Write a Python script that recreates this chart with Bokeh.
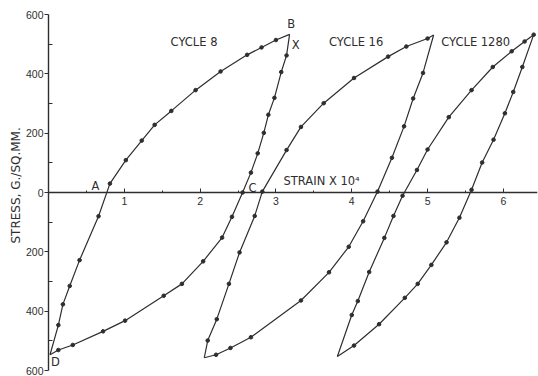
from bokeh.plotting import figure
from bokeh.models import FixedTicker, Range1d, Label, Title
from bokeh.embed import file_html
from bokeh.resources import INLINE

# ---- data (strain x 10^4, stress g/sq.mm; compression negative) ----
# Cycle 8
c8_load_x = [0.02, 0.13, 0.19, 0.28, 0.41, 0.66, 0.81, 1.02, 1.23, 1.40, 1.62, 1.94, 2.27, 2.62, 2.81, 3.00, 3.18]
c8_load_y = [-547, -447, -377, -315, -228, -80, 30, 109, 175, 228, 275, 345, 408, 464, 489, 514, 533]
c8_unload_x = [3.18, 3.14, 3.07, 2.98, 2.90, 2.84, 2.76, 2.67, 2.56, 2.42, 2.29, 2.04, 1.76, 1.52, 1.01, 0.72, 0.32, 0.13, 0.02]
c8_unload_y = [533, 462, 406, 319, 262, 201, 132, 67, 0, -82, -152, -232, -308, -348, -432, -468, -514, -531, -547]

# Cycle 16
c16_load_x = [2.055, 2.10, 2.22, 2.38, 2.52, 2.72, 2.82, 3.14, 3.33, 3.63, 4.03, 4.48, 4.72, 5.00, 5.08]
c16_load_y = [-557, -499, -427, -308, -202, -79, 3, 143, 221, 301, 386, 458, 492, 519, 531]
c16_unload_x = [5.08, 4.94, 4.81, 4.69, 4.53, 4.34, 4.15, 3.96, 3.70, 3.33, 2.67, 2.40, 2.21, 2.055]
c16_unload_y = [531, 403, 317, 223, 117, 3, -97, -183, -269, -364, -488, -524, -547, -557]

# Cycle 1280
c1280_load_x = [3.81, 4.00, 4.08, 4.23, 4.43, 4.55, 4.67, 4.86, 5.00, 5.28, 5.58, 5.86, 6.11, 6.28, 6.40]
c1280_load_y = [-553, -413, -366, -268, -153, -79, -11, 76, 145, 254, 345, 423, 476, 509, 532]
c1280_unload_x = [6.40, 6.25, 6.13, 6.02, 5.87, 5.72, 5.58, 5.42, 5.25, 5.05, 4.87, 4.70, 4.36, 4.03, 3.81]
c1280_unload_y = [532, 423, 339, 267, 178, 101, 9, -85, -168, -244, -308, -355, -444, -516, -553]

x_ticks = [1, 2, 3, 4, 5, 6]
x_minor = [0.5, 1.5, 2.5, 3.5, 4.5, 5.5]
y_ticks = [-600, -400, -200, 0, 200, 400, 600]
y_tick_labels = ["600", "400", "200", "0", "200", "400", "600"]
y_minor = [-500, -300, -100, 100, 300, 500]

y_title = "STRESS, G./SQ.MM."

TICK_FONT = "Liberation Sans"
FONT = "DejaVu Sans"
INK = "#2e2e2e"

p = figure(width=538, height=376, output_backend="svg", toolbar_location=None,
           x_range=Range1d(0, 6.45), y_range=Range1d(-600, 600),
           min_border_left=48, min_border_right=1, min_border_top=14, min_border_bottom=6)
p.grid.visible = False
p.outline_line_color = None
p.background_fill_color = "white"
p.border_fill_color = "white"

branches = [
    (c8_load_x, c8_load_y), (c8_unload_x, c8_unload_y),
    (c16_load_x, c16_load_y), (c16_unload_x, c16_unload_y),
    (c1280_load_x, c1280_load_y), (c1280_unload_x, c1280_unload_y),
]
for bx, by in branches:
    p.line(bx, by, line_color=INK, line_width=1.2)
    p.scatter(bx[1:-1], by[1:-1], size=3.6, fill_color=INK, line_color=INK)
p.scatter([c1280_load_x[-1]], [c1280_load_y[-1]], size=3.6, fill_color=INK, line_color=INK)

# x axis through y = 0
xa = p.xaxis[0]
xa.fixed_location = 0
xa.ticker = FixedTicker(ticks=x_ticks, minor_ticks=x_minor)
xa.axis_line_color = INK
xa.axis_line_width = 1.4
xa.major_tick_line_color = INK
xa.minor_tick_line_color = INK
xa.major_tick_in = 4
xa.major_tick_out = 0
xa.minor_tick_in = 2
xa.minor_tick_out = 0
xa.major_label_standoff = 4
xa.major_label_text_font = TICK_FONT
xa.major_label_text_font_size = "10.5px"
xa.major_label_text_color = INK

ya = p.yaxis[0]
ya.ticker = FixedTicker(ticks=y_ticks, minor_ticks=y_minor)
ya.major_label_overrides = {t: s for t, s in zip(y_ticks, y_tick_labels)}
ya.axis_line_color = INK
ya.axis_line_width = 1.4
ya.major_tick_line_color = INK
ya.minor_tick_line_color = INK
ya.major_tick_in = 0
ya.major_tick_out = 4
ya.minor_tick_in = 4
ya.minor_tick_out = 0
ya.major_label_standoff = 1
ya.major_label_text_font = TICK_FONT
ya.major_label_text_font_size = "10.5px"
ya.major_label_text_color = INK

# y-axis title as a left-side title, shifted up a little like the original
p.add_layout(Title(text=y_title, align="left", offset=127, standoff=0,
                   text_font=FONT, text_font_size="12px", text_font_style="normal",
                   text_color=INK), "left")

labels = [
    ("CYCLE 8", 1.61, 507, "left"),
    ("CYCLE 16", 3.70, 507, "left"),
    ("CYCLE 1280", 5.18, 507, "left"),
    ("B", 3.20, 567, "center"),
    ("X", 3.26, 497, "center"),
    ("A", 0.62, 23, "center"),
    ("C", 2.69, 15, "center"),
    ("D", 0.09, -570, "center"),
    ("STRAIN X 10⁴", 3.10, 40, "left"),
]
for txt, lx, ly, al in labels:
    p.add_layout(Label(x=lx, y=ly, text=txt, text_font=FONT, text_font_size="11.5px",
                       text_color=INK, text_align=al, text_baseline="middle"))

open("out.html", "w").write(file_html(p, INLINE))
